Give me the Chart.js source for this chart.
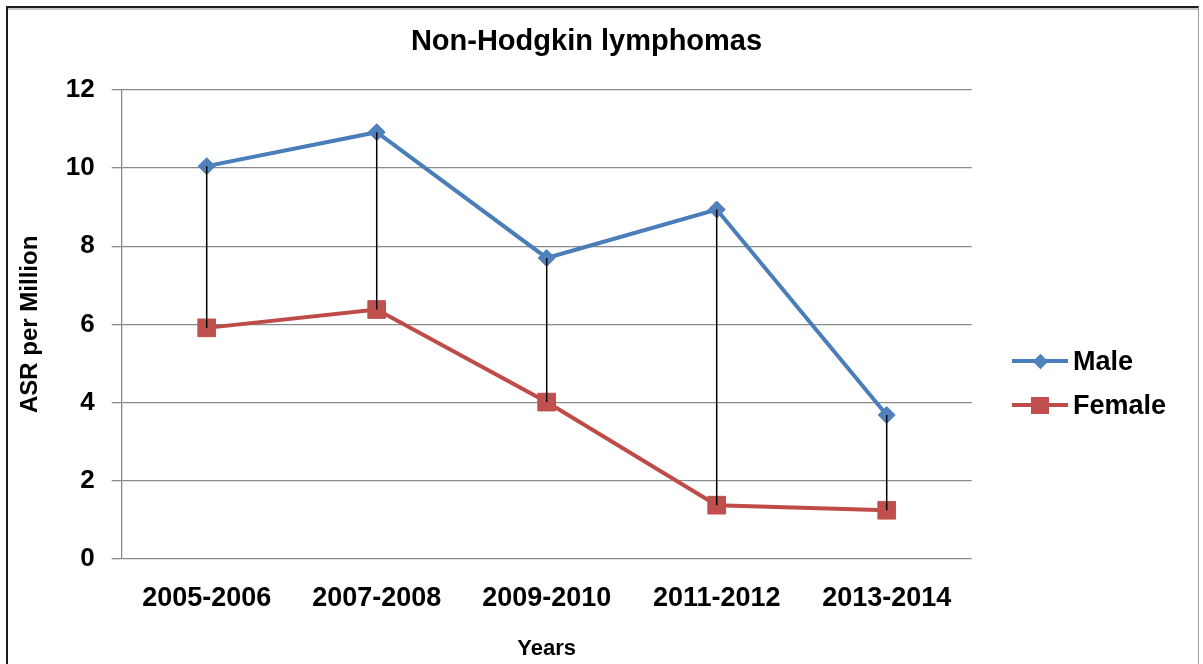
<!DOCTYPE html>
<html>
<head>
<meta charset="utf-8">
<title>Non-Hodgkin lymphomas</title>
<script src="https://cdn.jsdelivr.net/npm/chart.js@4.4.1/dist/chart.umd.min.js"></script>
<style>
  html, body { margin: 0; padding: 0; background: #fff; }
  #wrap { position: relative; width: 1203px; height: 664px; overflow: hidden; background: #fff; }
  #chart { position: absolute; left: 0; top: 0; }
  #frame {
    position: absolute; left: 6px; top: 6px; width: 1190px; height: 720px;
    border-top: 2px solid #1c1c1c; border-left: 2px solid #1c1c1c; border-right: 1px solid #9c9c9c;
    box-shadow: inset 0 2px 0 #c8c8c8;
    pointer-events: none;
  }
  .legend-row {
    position: absolute; left: 1012px; height: 30px;
    display: flex; align-items: center;
    font-family: "Liberation Sans", Arial, sans-serif; font-weight: bold; font-size: 27px; color: #000;
  }
  .swatch { position: relative; width: 56px; height: 30px; margin-right: 5px; }
  .swatch .ln { position: absolute; left: 0; right: 0; top: 13px; height: 4px; }
  .swatch .mk { position: absolute; }
</style>
</head>
<body>
<div id="wrap">
  <canvas id="chart" width="1203" height="664"></canvas>
  <div id="legend"></div>
  <div id="frame"></div>
</div>
<script>
// Two-year periods on the x axis
const categories = ['2005-2006', '2007-2008', '2009-2010', '2011-2012', '2013-2014'];
// Age-standardised rates per million
const maleASR = [10.05, 10.92, 7.70, 8.94, 3.68];
const femaleASR = [5.91, 6.38, 4.01, 1.37, 1.24];
const seriesNames = ['Male', 'Female'];
const yTickValues = [0, 2, 4, 6, 8, 10, 12];

const FONT = '"Liberation Sans", Arial, sans-serif';
const MALE_LINE = '#4a7ebb', MALE_FILL = '#4f81bd';
const FEMALE_LINE = '#be4b48', FEMALE_FILL = '#c0504d';
const GRID = '#8a8a8a';

// Vertical high-low connectors between the two series at each period
const highLowLines = {
  id: 'highLowLines',
  afterDatasetsDraw(chart) {
    const a = chart.getDatasetMeta(0).data;
    const b = chart.getDatasetMeta(1).data;
    const ctx = chart.ctx;
    ctx.save();
    ctx.strokeStyle = '#000';
    ctx.lineWidth = 1.5;
    a.forEach((p, i) => {
      const q = b[i];
      ctx.beginPath();
      ctx.moveTo(p.x, p.y);
      ctx.lineTo(q.x, q.y);
      ctx.stroke();
    });
    ctx.restore();
  }
};

const chart = new Chart(document.getElementById('chart'), {
  type: 'line',
  data: {
    labels: categories,
    datasets: [
      {
        label: seriesNames[0], data: maleASR,
        borderColor: MALE_LINE, borderWidth: 4, backgroundColor: MALE_FILL,
        pointStyle: 'rectRot', pointRadius: 8.5, pointBackgroundColor: MALE_FILL,
        pointBorderColor: MALE_FILL, pointBorderWidth: 1, tension: 0
      },
      {
        label: seriesNames[1], data: femaleASR,
        borderColor: FEMALE_LINE, borderWidth: 4, backgroundColor: FEMALE_FILL,
        pointStyle: 'rect', pointRadius: 12.5, pointBackgroundColor: FEMALE_FILL,
        pointBorderColor: FEMALE_FILL, pointBorderWidth: 1, tension: 0
      }
    ]
  },
  options: {
    responsive: false,
    animation: false,
    devicePixelRatio: 1,
    layout: { padding: { left: 0, right: 30, top: 0, bottom: 0 } },
    plugins: {
      legend: { display: false },
      tooltip: { enabled: false },
      title: {
        display: true, text: 'Non-Hodgkin lymphomas', color: '#000',
        font: { family: FONT, size: 29, weight: 'bold' },
        padding: { top: 24.6, bottom: 30.6 }
      }
    },
    scales: {
      x: {
        offset: true,
        grid: { display: false, drawTicks: false },
        border: { display: false },
        ticks: {
          color: '#000', font: { family: FONT, size: 27, weight: 'bold' },
          padding: 24, maxRotation: 0, autoSkip: false
        },
        title: {
          display: true, text: 'Years', color: '#000',
          font: { family: FONT, size: 22, weight: 'bold' },
          padding: { top: 0, bottom: 2 }
        },
        afterFit(scale) { scale.height = 105.3; }
      },
      y: {
        min: 0, max: 12,
        afterBuildTicks(scale) { scale.ticks = yTickValues.map(v => ({ value: v })); },
        ticks: {
          color: '#000', font: { family: FONT, size: 26, weight: 'bold' }, padding: 17
        },
        grid: { color: GRID, lineWidth: 1.3, tickLength: 10, drawTicks: true },
        border: { color: GRID, width: 1.3 },
        title: {
          display: true, text: 'ASR per Million', color: '#000',
          font: { family: FONT, size: 24, weight: 'bold' },
          padding: { top: 15.6, bottom: 0 }
        },
        afterFit(scale) { scale.width = 121.7; }
      },
      // Empty right-hand band that holds the legend area
      legendBand: {
        position: 'right', display: true,
        grid: { display: false, drawTicks: false },
        border: { display: false },
        ticks: { display: false },
        afterFit(scale) { scale.width = 201.3; }
      }
    }
  },
  plugins: [highLowLines]
});

// Legend: line-with-marker swatches beside the series names
const legend = document.getElementById('legend');
const legendRows = [
  { name: seriesNames[0], line: MALE_LINE, fill: MALE_FILL, shape: 'diamond', cy: 361 },
  { name: seriesNames[1], line: FEMALE_LINE, fill: FEMALE_FILL, shape: 'square', cy: 405 }
];
legendRows.forEach(r => {
  const row = document.createElement('div');
  row.className = 'legend-row';
  row.style.top = (r.cy - 15) + 'px';
  const sw = document.createElement('div');
  sw.className = 'swatch';
  const ln = document.createElement('div');
  ln.className = 'ln';
  ln.style.background = r.line;
  const mk = document.createElement('div');
  mk.className = 'mk';
  mk.style.background = r.fill;
  if (r.shape === 'diamond') {
    Object.assign(mk.style, { width: '11px', height: '11px', left: '22.5px', top: '9.5px', transform: 'rotate(45deg)' });
  } else {
    Object.assign(mk.style, { width: '18px', height: '17px', left: '19px', top: '6.5px' });
  }
  sw.appendChild(ln);
  sw.appendChild(mk);
  const tx = document.createElement('span');
  tx.textContent = r.name;
  row.appendChild(sw);
  row.appendChild(tx);
  legend.appendChild(row);
});
</script>
</body>
</html>
